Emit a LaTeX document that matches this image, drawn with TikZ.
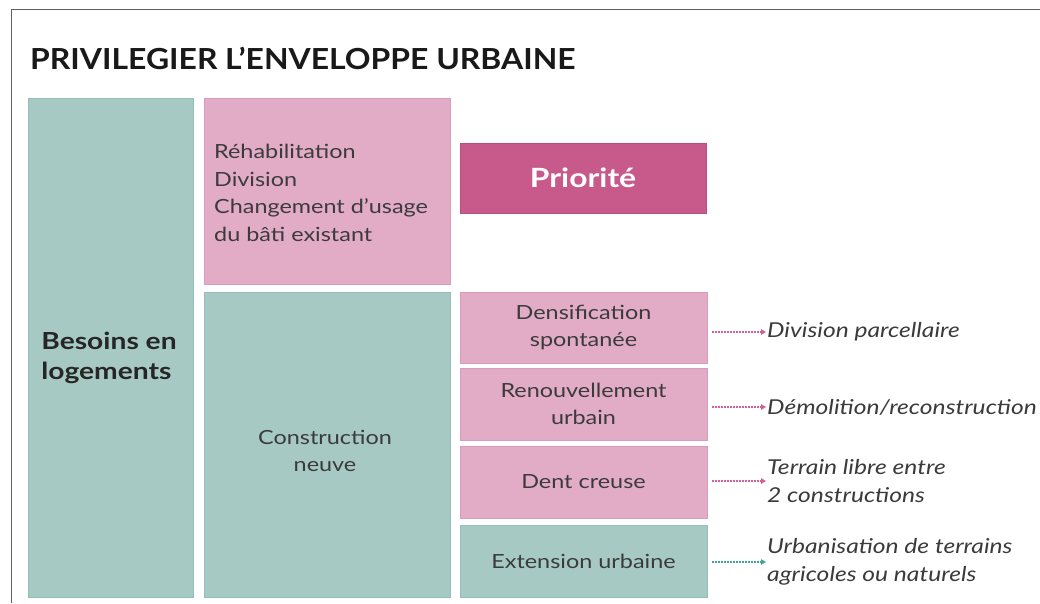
\documentclass[tikz,border=0pt]{standalone}
\usepackage{fontspec}
\setmainfont{Lato}[FakeStretch=1.2]
\newfontfamily\titlefont{Lato}[FakeStretch=1.1]
\usetikzlibrary{arrows.meta}
\definecolor{teal1}{HTML}{A7C9C3}
\definecolor{teal2}{HTML}{95BEB7}
\definecolor{pink1}{HTML}{E2ACC6}
\definecolor{pink2}{HTML}{D99DBA}
\definecolor{prio}{HTML}{C85A8B}
\definecolor{txt}{HTML}{3B3B3B}
\definecolor{arrpink}{HTML}{D2609A}
\definecolor{arrteal}{HTML}{3FA596}
\tikzset{
  tealbox/.style={rectangle, fill=teal1, draw=teal2, line width=0.8pt, inner sep=0pt, text=txt, align=center},
  pinkbox/.style={rectangle, fill=pink1, draw=pink2, line width=0.8pt, inner sep=0pt, text=txt, align=center},
  boxfont/.style={font=\fontsize{19.5}{27.5}\selectfont},
  itext/.style={anchor=west, inner sep=1pt, text=txt, align=left, font=\fontsize{20.5}{27.5}\selectfont\itshape},
  dotarrow/.style={line width=2pt, dash pattern=on 1.4pt off 1.6pt, -{Triangle[length=5pt,width=5.5pt]}}
}
\begin{document}
\begin{tikzpicture}[x=1pt,y=-1pt]
\useasboundingbox (0,0) rectangle (1040,603);
\fill[white] (0,0) rectangle (1040,603);
% frame
\draw[gray!75!black, line width=1.8pt] (11.5,603) -- (11.5,9.5) -- (1040,9.5);
% title
\node[anchor=base west, inner sep=0pt, text=black!90, font=\fontsize{29}{32}\titlefont\bfseries] (title) at (30,69) {PRIVILEGIER L’ENVELOPPE URBAINE};
% left column
\node[tealbox, minimum width=165, minimum height=499] (besoins) at (110.5,347.5) {};
\node[text=black!85, align=left, font=\fontsize{23.5}{30}\selectfont\bfseries] (besoinsT) at (109,358) {Besoins en\\logements};
% middle column
\node[pinkbox, minimum width=246, minimum height=186] (rehab) at (327,191) {};
\node[anchor=north west, inner sep=0pt, text=txt, align=left, boxfont] (rehabT) at (214,144) {Réhabilitation\\Division\\Changement d’usage\\du bâti existant};
\node[tealbox, minimum width=246, minimum height=305, boxfont] (constr) at (327,444.5) {};
\node[text=txt, align=center, boxfont] (constrT) at (325,451) {Construction\\neuve};
% right column
\node[rectangle, fill=prio, draw=prio!90!black, line width=0.6pt, minimum width=246, minimum height=70, inner sep=0pt, text=white, font=\fontsize{26.5}{30}\selectfont\bfseries] (prio) at (583,178) {Priorité};
\node[pinkbox, minimum width=247, minimum height=71, boxfont] (dens) at (583.5,327.5) {Densification\\spontanée};
\node[pinkbox, minimum width=247, minimum height=72, boxfont] (renouv) at (583.5,404) {Renouvellement\\urbain};
\node[pinkbox, minimum width=247, minimum height=72, boxfont] (dent) at (583.5,482) {Dent creuse};
\node[tealbox, minimum width=247, minimum height=72, boxfont] (ext) at (583.5,561) {Extension urbaine};
% right texts
\node[itext] (t1) at (766,332) {Division parcellaire};
\node[itext] (t2) at (766,407) {Démolition/reconstruction};
\node[itext] (t3) at (766,481) {Terrain libre entre\\2 constructions};
\node[itext] (t4) at (766,562) {Urbanisation de terrains\\agricoles ou naturels};
% arrows
\draw[dotarrow, arrpink] ([xshift=5pt]dens.east |- t1.west) -- (t1.west);
\draw[dotarrow, arrpink] ([xshift=5pt]renouv.east |- t2.west) -- (t2.west);
\draw[dotarrow, arrpink] ([xshift=5pt]dent.east |- t3.west) -- (t3.west);
\draw[dotarrow, arrteal] ([xshift=5pt]ext.east |- t4.west) -- (t4.west);
\end{tikzpicture}
\end{document}
